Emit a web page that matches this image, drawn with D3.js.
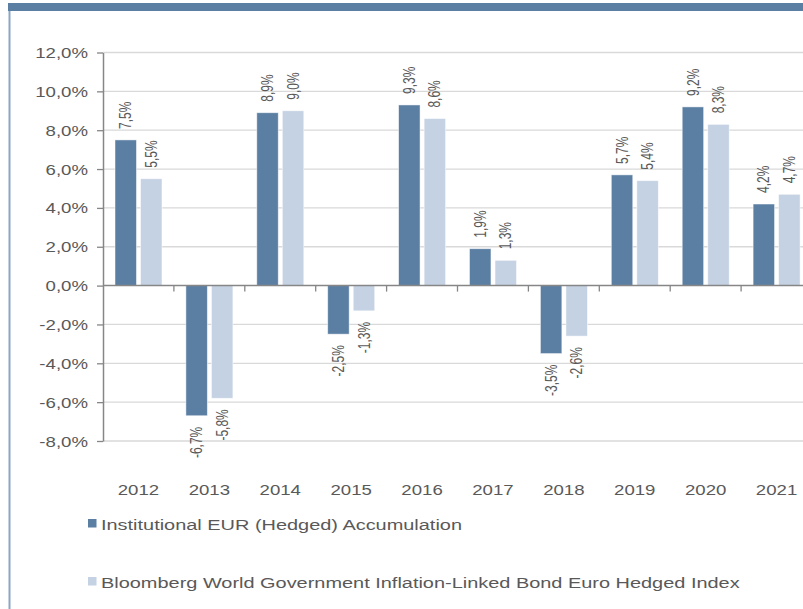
<!DOCTYPE html>
<html>
<head>
<meta charset="utf-8">
<script src="https://cdn.jsdelivr.net/npm/d3@7"></script>
<style>
  body { margin: 0; background: #fff; }
  text { font-family: "Liberation Sans", Arial, sans-serif; fill: #595959; }
</style>
</head>
<body>
<div id="grafico"></div>
<script>
// dados do gráfico (em %)
var anos = ["2012", "2013", "2014", "2015", "2016", "2017", "2018", "2019", "2020", "2021"];
var series = ["Institutional EUR (Hedged) Accumulation",
              "Bloomberg World Government Inflation-Linked Bond Euro Hedged Index"];
var fundo = [7.5, -6.7, 8.9, -2.5, 9.3, 1.9, -3.5, 5.7, 9.2, 4.2];
var indice = [5.5, -5.8, 9.0, -1.3, 8.6, 1.3, -2.6, 5.4, 8.3, 4.7];
var yTicks = [-8, -6, -4, -2, 0, 2, 4, 6, 8, 10, 12];

var width = 803,
    height = 609,
    esq = 103,
    topo = 52.5,
    base = 441,
    stretch = 1.33,
    cores = ["#5b7fa3", "#c5d2e3"];

var locale = d3.formatLocale({decimal: ",", thousands: ".", grouping: [3], currency: ["", "€"], minus: "-"});
var fmt = locale.format(".1f");
function pct(v) { return fmt(v) + "%"; }

var dados = anos.map(function(a, i) {
  return {ano: a, valores: [fundo[i], indice[i]]};
});

var svg = d3.select("#grafico").append("svg")
    .attr("width", width)
    .attr("height", height);

// moldura
svg.append("rect").attr("x", 8).attr("y", 3).attr("width", width - 8).attr("height", 8).attr("fill", "#5b7fa3");
svg.append("line").attr("x1", 9.5).attr("x2", 9.5).attr("y1", 11).attr("y2", height)
    .attr("stroke", "#8aa5c6").attr("stroke-width", 2);

var y = d3.scaleLinear().domain([-8, 12]).range([base, topo]);
var x = d3.scaleBand().domain(anos).range([esq, esq + 709]);
var x1 = d3.scaleBand().domain([0, 1]).range([12, 59]).paddingInner(0.16);

// linhas de grade
svg.append("g").selectAll("line")
  .data(yTicks.filter(function(d) { return d != 0; }))
  .enter().append("line")
    .attr("x1", esq).attr("x2", width)
    .attr("y1", function(d) { return y(d); })
    .attr("y2", function(d) { return y(d); })
    .attr("stroke", "#d9d9d9")
    .attr("stroke-width", 1.3);

// barras
var grupo = svg.append("g").selectAll("g")
  .data(dados)
  .enter().append("g")
    .attr("transform", function(d) { return "translate(" + x(d.ano) + ",0)"; });

grupo.selectAll("rect")
  .data(function(d) { return d.valores; })
  .enter().append("rect")
    .attr("x", function(d, i) { return x1(i); })
    .attr("width", x1.bandwidth())
    .attr("y", function(d) { return y(Math.max(0, d)); })
    .attr("height", function(d) { return Math.abs(y(d) - y(0)); })
    .attr("fill", function(d, i) { return cores[i]; })
    .attr("stroke", "rgba(255,255,255,0.6)")
    .attr("stroke-width", 0.8);

// rótulos de valor
grupo.selectAll("text")
  .data(function(d) { return d.valores; })
  .enter().append("text")
    .attr("transform", function(d, i) {
      var cx = x1(i) + x1.bandwidth() / 2;
      var cy = d >= 0 ? y(d) - 11 : y(d) + 11;
      return "translate(" + cx + "," + cy + ") scale(" + stretch + ",1) rotate(-90)";
    })
    .attr("dy", "0.35em")
    .attr("text-anchor", function(d) { return d >= 0 ? "start" : "end"; })
    .attr("font-size", "12px")
    .text(pct);

// eixo y
var eixoY = svg.append("g")
    .attr("transform", "translate(" + esq + ",0)")
    .call(d3.axisLeft(y).tickValues(yTicks).tickSize(6).tickSizeOuter(0).tickFormat(pct));
eixoY.select(".domain").attr("stroke", "#868686").attr("stroke-width", 1.5);
eixoY.selectAll(".tick line").attr("stroke", "#868686").attr("stroke-width", 1.3);
eixoY.selectAll(".tick text")
    .attr("x", null).attr("dy", "0.36em")
    .attr("transform", "translate(-15,0) scale(" + stretch + ",1)")
    .attr("font-family", null).attr("font-size", "14px").attr("fill", "#595959");

// linha do zero e marcas entre categorias
svg.append("line")
    .attr("x1", esq).attr("x2", width)
    .attr("y1", y(0)).attr("y2", y(0))
    .attr("stroke", "#868686").attr("stroke-width", 1.5);
svg.append("g").selectAll("line")
  .data(anos.slice(1))
  .enter().append("line")
    .attr("x1", function(d) { return x(d); })
    .attr("x2", function(d) { return x(d); })
    .attr("y1", y(0)).attr("y2", y(0) + 6)
    .attr("stroke", "#868686").attr("stroke-width", 1.3);

// anos
var eixoX = svg.append("g")
    .attr("transform", "translate(0,495)")
    .call(d3.axisBottom(x).tickSize(0));
eixoX.select(".domain").remove();
eixoX.selectAll(".tick text")
    .attr("y", null).attr("dy", null)
    .attr("transform", "scale(" + stretch + ",1)")
    .attr("font-family", null).attr("font-size", "14px").attr("fill", "#595959");

// legenda
var leg = svg.append("g").selectAll("g")
  .data(series)
  .enter().append("g")
    .attr("transform", function(d, i) { return "translate(88," + (519 + i * 58) + ")"; });
leg.append("rect")
    .attr("width", 8.5).attr("height", 8.5)
    .attr("fill", function(d, i) { return cores[i]; });
leg.append("text")
    .attr("transform", "translate(13,10.5) scale(" + stretch + ",1)")
    .attr("font-size", "15px")
    .text(function(d) { return d; });
</script>
</body>
</html>
